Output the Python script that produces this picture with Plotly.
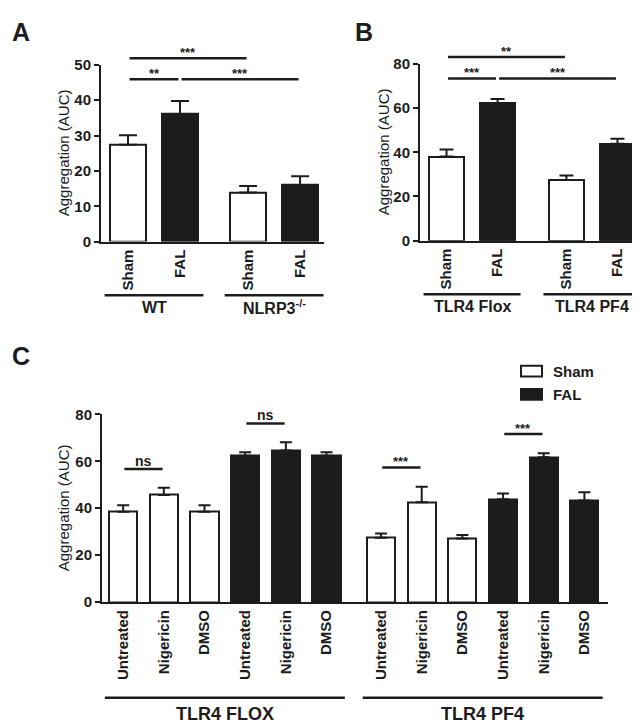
import plotly.graph_objects as go

W, H = 640, 727

# ---------------- data ----------------
# Panel A
a_groups = ["WT", "NLRP3<sup>-/-</sup>"]
a_labels = ["Sham", "FAL", "Sham", "FAL"]
a_cond = ["Sham", "FAL", "Sham", "FAL"]
a_mean = [27.4, 36.1, 13.9, 16.0]
a_sem = [2.7, 3.7, 1.8, 2.5]
a_sig = [(0, 2, "***", 51.9), (0, 1, "**", 45.9), (1, 3, "***", 45.9)]
a_ticks = [0, 10, 20, 30, 40, 50]

# Panel B
b_groups = ["TLR4 Flox", "TLR4 PF4"]
b_labels = ["Sham", "FAL", "Sham", "FAL"]
b_cond = ["Sham", "FAL", "Sham", "FAL"]
b_mean = [38.1, 62.3, 27.5, 43.8]
b_sem = [3.1, 1.8, 2.0, 2.3]
b_sig = [(0, 2, "**", 83.1), (0, 1, "***", 73.4), (1, 3, "***", 73.4)]
b_ticks = [0, 20, 40, 60, 80]

# Panel C
c_groups = ["TLR4 FLOX", "TLR4 PF4"]
c_labels = ["Untreated", "Nigericin", "DMSO"] * 4
c_cond = ["Sham"] * 3 + ["FAL"] * 3 + ["Sham"] * 3 + ["FAL"] * 3
c_mean = [38.5, 45.7, 38.5, 62.4, 64.6, 62.4, 27.4, 42.6, 27.1, 43.8, 61.7, 43.3]
c_sem = [2.8, 3.0, 2.8, 1.5, 3.6, 1.5, 1.8, 6.6, 1.5, 2.5, 1.8, 3.5]
c_sig = [(0, 1, "ns", 56.7), (3, 4, "ns", 76.2), (6, 7, "***", 57.4), (9, 10, "***", 71.7)]
c_ticks = [0, 20, 40, 60, 80]

legend_names = ["Sham", "FAL"]

# ---------------- style ----------------
FONT = "Liberation Sans, Arial, sans-serif"
BLACK = "#1c1c1c"
COLORS = {"Sham": "white", "FAL": BLACK}

fig = go.Figure()
shapes = []
annotations = []


def panel(idx, labels, cond, mean, sem, sig, ticks, groups, per_group, gap,
          xpx, ypx, xr, yr, cap, letter, letter_px, title_x, sig_font,
          group_off, group_font, label_off):
    sfx = "" if idx == 1 else str(idx)
    xname, yname = "x" + sfx, "y" + sfx
    n = len(mean)
    pos = [i + gap * (i // per_group) for i in range(n)]
    fig.add_trace(go.Bar(
        x=pos, y=mean, width=0.69,
        marker=dict(color=[COLORS[c] for c in cond], line=dict(color=BLACK, width=2)),
        error_y=dict(type="data", array=sem, arrayminus=[0] * n, symmetric=False,
                     color=BLACK, thickness=2, width=cap),
        xaxis=xname, yaxis=yname, showlegend=False, hoverinfo="skip",
    ))
    xdom = [xpx[0] / W, xpx[1] / W]
    ydom = [1 - ypx[1] / H, 1 - ypx[0] / H]
    layout_x = dict(
        domain=xdom, range=xr, anchor=yname, showline=True, linewidth=2,
        linecolor=BLACK, ticks="", tickvals=pos, ticktext=labels, tickangle=-90,
        tickfont=dict(family=FONT, size=15, color=BLACK, weight="bold"),
        showgrid=False, zeroline=False, fixedrange=True,
    )
    layout_y = dict(
        domain=ydom, range=yr, anchor=xname, showline=True, linewidth=2,
        linecolor=BLACK, ticks="outside", ticklen=5, tickwidth=2, tickcolor=BLACK,
        tickvals=ticks, tickfont=dict(family=FONT, size=15, color=BLACK, weight="bold"),
        showgrid=False, zeroline=False, fixedrange=True,
    )
    fig.update_layout(**{"xaxis" + sfx: layout_x, "yaxis" + sfx: layout_y})

    def xf(v):
        return (v - xr[0]) / (xr[1] - xr[0])

    ypix = ypx[1] - ypx[0]
    # significance bars
    for i, j, txt, lvl in sig:
        yv = lvl / yr[1]
        shapes.append(dict(type="line", xref=xname + " domain", yref=yname + " domain",
                           x0=xf(pos[i] + 0.03), x1=xf(pos[j] - 0.03), y0=yv, y1=yv,
                           line=dict(color=BLACK, width=2.5)))
        is_ns = txt == "ns"
        annotations.append(dict(
            text=txt, xref=xname, yref=yname + " domain", x=(pos[i] + pos[j]) / 2, y=yv,
            yanchor="bottom", showarrow=False, yshift=(-2 if is_ns else -4),
            font=dict(family=FONT, size=(14 if is_ns else sig_font), color=BLACK, weight="bold"),
        ))
    # group brackets
    for g, name in enumerate(groups):
        i0, i1 = g * per_group, (g + 1) * per_group - 1
        yv = -group_off / ypix
        shapes.append(dict(type="line", xref=xname + " domain", yref=yname + " domain",
                           x0=xf(pos[i0] - 0.45), x1=xf(pos[i1] + 0.45), y0=yv, y1=yv,
                           line=dict(color=BLACK, width=2.5)))
        annotations.append(dict(
            text=name, xref=xname, yref=yname + " domain", x=(pos[i0] + pos[i1]) / 2,
            y=-(group_off + label_off) / ypix, yanchor="middle", showarrow=False,
            font=dict(family=FONT, size=group_font, color=BLACK, weight="bold"),
        ))
    # y title
    annotations.append(dict(
        text="Aggregation (AUC)", xref="paper", yref=yname + " domain",
        x=title_x / W, y=0.5, textangle=-90, showarrow=False, xanchor="center",
        yanchor="middle", font=dict(family=FONT, size=15, color=BLACK),
    ))
    # panel letter
    annotations.append(dict(
        text=letter, xref="paper", yref="paper", x=letter_px[0] / W, y=1 - letter_px[1] / H,
        xanchor="center", yanchor="middle", showarrow=False,
        font=dict(family=FONT, size=25, color=BLACK, weight="bold"),
    ))


panel(1, a_labels, a_cond, a_mean, a_sem, a_sig, a_ticks, a_groups, 2, 0.31,
      (93, 316), (49, 230), [-0.52, 3.77], [0, 50], 9, "A", (13, 15), 55, 13,
      55, 16, 12)
panel(2, b_labels, b_cond, b_mean, b_sem, b_sig, b_ticks, b_groups, 2, 0.35,
      (412, 636), (48, 229), [-0.52, 3.87], [0, 80], 7, "B", (356, 15), 375, 13,
      55, 16, 12)
panel(3, c_labels, c_cond, c_mean, c_sem, c_sig, c_ticks, c_groups, 6, 0.34,
      (94, 600), (407, 599), [-0.52, 11.92], [0, 80], 6, "C", (13, 347), 55, 13,
      98, 18, 17)

# legend (drawn manually to match the rectangular swatches)
for k, name in enumerate(legend_names):
    top = 357 + k * 24
    shapes.append(dict(type="rect", xref="paper", yref="paper",
                       x0=513 / W, x1=534 / W, y0=1 - (top + 11) / H, y1=1 - top / H,
                       fillcolor=COLORS[name], line=dict(color=BLACK, width=2)))
    annotations.append(dict(text=name, xref="paper", yref="paper", x=543 / W,
                            y=1 - (top + 5.5) / H, xanchor="left", yanchor="middle",
                            showarrow=False,
                            font=dict(family=FONT, size=15, color=BLACK, weight="bold")))

fig.update_layout(
    width=W, height=H, margin=dict(l=0, r=0, t=0, b=0),
    paper_bgcolor="white", plot_bgcolor="white",
    shapes=shapes, annotations=annotations, bargap=0, showlegend=False,
)
fig.write_html("out.html")
